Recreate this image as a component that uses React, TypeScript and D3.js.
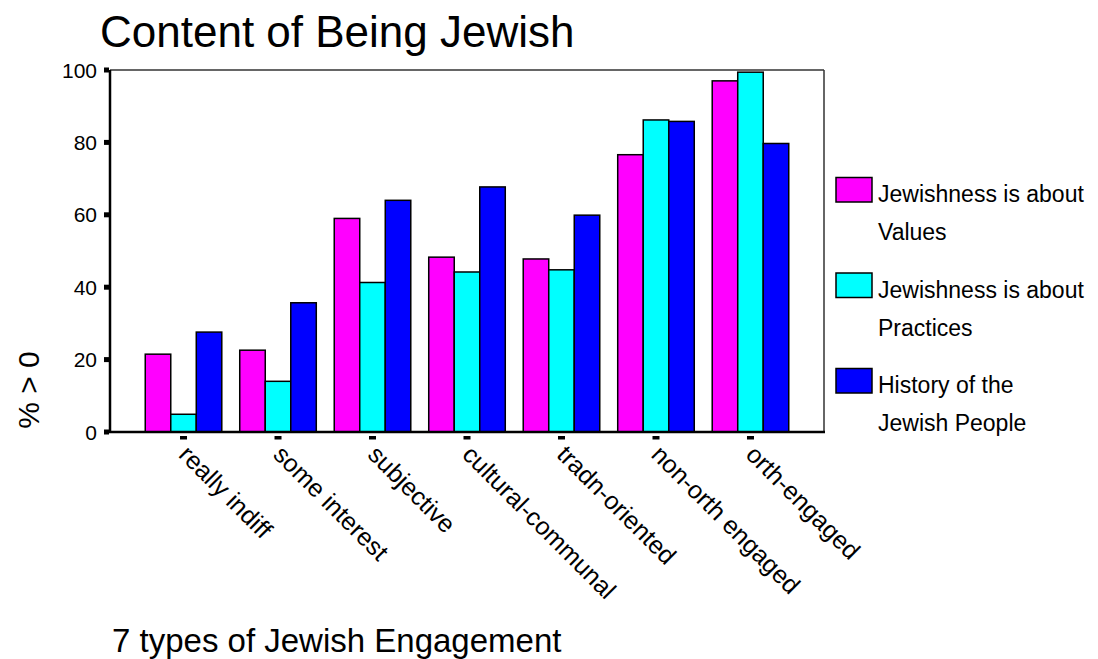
import React from "react";
import * as d3 from "d3";

const categories = [
  "really indiff",
  "some interest",
  "subjective",
  "cultural-communal",
  "tradn-oriented",
  "non-orth engaged",
  "orth-engaged",
];
const seriesNames = ["Values", "Practices", "History"];
const legendLines = [
  ["Jewishness is about", "Values"],
  ["Jewishness is about", "Practices"],
  ["History of the", "Jewish People"],
];
const valuesValues = [21.5, 22.6, 59.0, 48.3, 47.8, 76.6, 97.0];
const practicesValues = [4.9, 14.0, 41.3, 44.2, 44.8, 86.2, 99.4];
const historyValues = [27.6, 35.7, 64.0, 67.7, 59.9, 85.8, 79.7];
const seriesColors = ["#FF00FF", "#00FFFF", "#0000FF"];
const yTicks = [0, 20, 40, 60, 80, 100];
const titleText = "Content of Being Jewish";
const xTitle = "7 types of Jewish Engagement";
const yTitle = "% > 0";

const W = 1098;
const H = 659;
const FONT = "'Liberation Sans', Arial, Helvetica, sans-serif";

export default function App() {
  const left = 110, right = 824, top = 70, bottom = 432;
  const x0 = d3.scaleBand<string>().domain(categories).range([left, right]).paddingInner(0.19).paddingOuter(0.373);
  const x1 = d3.scaleBand<string>().domain(seriesNames).range([0, x0.bandwidth()]);
  const y = d3.scaleLinear().domain([0, 100]).range([bottom, top]);
  const all = [valuesValues, practicesValues, historyValues];

  return (
    <svg width={W} height={H} style={{ position: "absolute", left: 0, top: 0, background: "#fff" }} fontFamily={FONT}>
      <rect x={0} y={0} width={W} height={H} fill="#fff" />
      <text x={100} y={47} fontSize={44} fill="#000">{titleText}</text>

      {/* frame top/right */}
      <line x1={left} y1={top} x2={right} y2={top} stroke="#333" strokeWidth={1.5} />
      <line x1={right} y1={top} x2={right} y2={bottom} stroke="#333" strokeWidth={1.5} />

      {/* bars */}
      {categories.map((c, i) => (
        <g key={c} transform={`translate(${x0(c)},0)`}>
          {seriesNames.map((s, j) => {
            const v = all[j][i];
            return (
              <rect
                key={s}
                x={x1(s)}
                y={y(v)}
                width={x1.bandwidth()}
                height={y(0) - y(v)}
                fill={seriesColors[j]}
                stroke="#000"
                strokeWidth={1.5}
              />
            );
          })}
        </g>
      ))}

      {/* axes */}
      <line x1={left} y1={top} x2={left} y2={bottom + 1} stroke="#000" strokeWidth={2.5} />
      <line x1={left - 1} y1={bottom} x2={right + 1} y2={bottom} stroke="#000" strokeWidth={2.5} />

      {yTicks.map((t) => (
        <g key={t}>
          <rect x={left - 6} y={y(t) - 2.5} width={5} height={5} fill="#000" />
          <text x={97} y={y(t)} dy="0.36em" textAnchor="end" fontSize={21} fill="#000">{t}</text>
        </g>
      ))}

      {categories.map((c) => {
        const cx = (x0(c) as number) + x0.bandwidth() / 2;
        return (
          <g key={c}>
            <rect x={cx - 3.5} y={bottom + 4} width={7} height={3.5} fill="#000" />
            <text
              transform={`translate(${cx - 6},${bottom + 24}) rotate(45)`}
              fontSize={25}
              fill="#000"
            >
              {c}
            </text>
          </g>
        );
      })}

      <text transform={`translate(39,390) rotate(-90)`} textAnchor="middle" fontSize={30} fill="#000">{yTitle}</text>
      <text x={112} y={652} fontSize={33} fill="#000">{xTitle}</text>

      {/* legend */}
      {legendLines.map((lines, i) => {
        const by = 202 + i * 95.5;
        return (
          <g key={i}>
            <rect x={836} y={by - 24.5} width={36} height={24.5} fill={seriesColors[i]} stroke="#000" strokeWidth={1.5} />
            <text x={878} y={by} fontSize={23} fill="#000">{lines[0]}</text>
            <text x={878} y={by + 38} fontSize={23} fill="#000">{lines[1]}</text>
          </g>
        );
      })}
    </svg>
  );
}
